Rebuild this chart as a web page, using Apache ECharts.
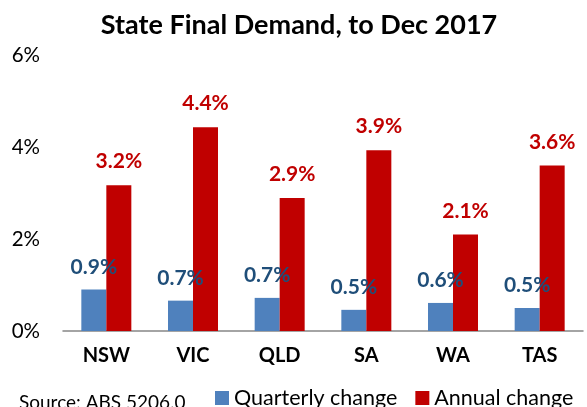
<!DOCTYPE html>
<html>
<head>
<meta charset="utf-8">
<script src="https://cdn.jsdelivr.net/npm/echarts@6/dist/echarts.min.js"></script>
<style>
    html, body { margin: 0; padding: 0; background: #fff; }
    #chart { width: 587px; height: 407px; }
</style>
</head>
<body>
<div id="chart"></div>
<script>
    // states along the x axis
    var states = ["NSW", "VIC", "QLD", "SA", "WA", "TAS"];
    // per cent changes
    var quarterly = [0.9, 0.66, 0.72, 0.46, 0.61, 0.5];
    var annual = [3.17, 4.43, 2.89, 3.93, 2.1, 3.6];
    var yTicks = [0, 2, 4, 6];

    var font = "Lato, 'Open Sans', sans-serif";
    var chart = echarts.init(document.getElementById("chart"));

    function pct(p) {
        return p.value.toFixed(1) + "%";
    }

    var option = {
        animation: false,
        textStyle: { fontFamily: font },
        title: [{
            text: "State Final Demand, to Dec 2017",
            left: 294,
            textAlign: "center",
            top: 7,
            textStyle: { fontSize: 27, fontWeight: "bold", color: "#000", fontFamily: font }
        }, {
            text: "Source: ABS 5206.0",
            left: 14,
            top: 388,
            textStyle: { fontSize: 19, fontWeight: "normal", color: "#000", fontFamily: font }
        }],
        legend: {
            left: 215,
            top: 387,
            width: 372,
            padding: 0,
            itemWidth: 14,
            itemHeight: 14,
            itemGap: 18,
            icon: "rect",
            textStyle: { fontSize: 21.5, color: "#000", fontFamily: font },
            data: ["Quarterly change", "Annual change"]
        },
        grid: { left: 63, right: 4, top: 55, bottom: 76 },
        xAxis: {
            type: "category",
            data: states,
            axisLine: { lineStyle: { color: "#868686", width: 1.5 } },
            axisTick: { length: 6, lineStyle: { color: "#868686", width: 1.5 } },
            axisLabel: { fontSize: 20, fontWeight: "bold", color: "#000", margin: 15 }
        },
        yAxis: {
            type: "value",
            min: yTicks[0],
            max: yTicks[yTicks.length - 1],
            interval: 2,
            axisLine: { show: false },
            axisTick: { show: false },
            splitLine: { show: false },
            axisLabel: { fontSize: 20.5, color: "#000", margin: 23, formatter: "{value}%" }
        },
        series: [{
            name: "Quarterly change",
            type: "bar",
            data: quarterly,
            barWidth: 25,
            barGap: "0%",
            itemStyle: { color: "#4F81BD" },
            label: {
                show: true,
                position: "top",
                distance: 12,
                formatter: pct,
                fontSize: 21,
                fontWeight: "bold",
                color: "#1F4E79"
            }
        }, {
            name: "Annual change",
            type: "bar",
            data: annual,
            barWidth: 25,
            itemStyle: { color: "#C00000" },
            label: {
                show: true,
                position: "top",
                distance: 13,
                formatter: pct,
                fontSize: 21,
                fontWeight: "bold",
                color: "#C00000"
            }
        }]
    };
    chart.setOption(option);
</script>
</body>
</html>
